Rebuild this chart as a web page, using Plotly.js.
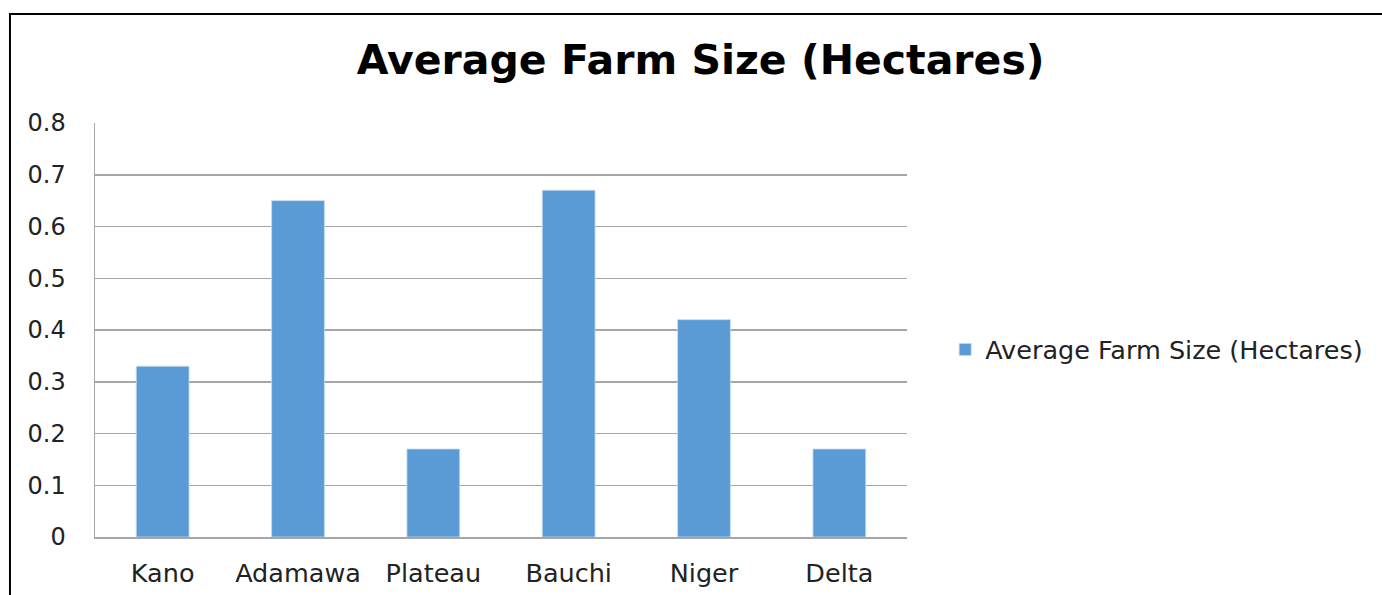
<!DOCTYPE html>
<html><head><meta charset="utf-8">
<script src="https://cdn.plot.ly/plotly-3.0.1.min.js"></script>
<style>html,body{margin:0;padding:0;background:#fff;}#chart{width:1382px;height:595px;}</style>
</head><body><div id="chart"></div>
<script>
const categories = ["Kano", "Adamawa", "Plateau", "Bauchi", "Niger", "Delta"];
const farmSize = [0.33, 0.65, 0.17, 0.67, 0.42, 0.17];
const yTicks = [0, 0.1, 0.2, 0.3, 0.4, 0.5, 0.6, 0.7, 0.8];
const yTickText = ["0", "0.1", "0.2", "0.3", "0.4", "0.5", "0.6", "0.7", "0.8"];
const seriesName = "Average Farm Size (Hectares)";
const chartTitle = "Average Farm Size (Hectares)";

const font = "'DejaVu Sans', sans-serif";
const trace = {
  type: "bar", x: categories, y: farmSize, name: seriesName,
  marker: {color: "#5b9bd5", line: {color: "#c5d9ef", width: 0.8}},
  showlegend: true, hoverinfo: "x+y"
};
const layout = {
  width: 1382, height: 595,
  margin: {l: 95, r: 475, t: 123, b: 58},
  paper_bgcolor: "#ffffff", plot_bgcolor: "#ffffff",
  font: {family: font, color: "#222222", size: 24},
  title: {text: chartTitle, font: {family: font, size: 41, color: "#000000", weight: "bold"},
          x: 0.507, xanchor: "center", y: 0.9, yanchor: "middle", yref: "container"},
  bargap: 0.61,
  xaxis: {showgrid: false, showline: true, linecolor: "#a6a6a6", linewidth: 1.5,
          ticks: "", ticklabelstandoff: 13, tickfont: {family: font, size: 25.5, color: "#222"}},
  yaxis: {range: [0, 0.8], tickvals: yTicks, ticktext: yTickText, showgrid: true,
          gridcolor: "#a6a6a6", gridwidth: 1.5, showline: true, linecolor: "#a6a6a6", linewidth: 1.5,
          zeroline: false, ticks: "", ticklabelstandoff: 23,
          tickfont: {family: font, size: 24, color: "#222"}},
  showlegend: true,
  legend: {x: 1.047, xanchor: "left", y: 0.452, yanchor: "middle", font: {family: font, size: 25.5, color: "#222"},
           itemwidth: 30, bgcolor: "rgba(0,0,0,0)"},
  shapes: [{type: "rect", xref: "paper", yref: "paper", x0: -0.1047, x1: 1.6, y0: -0.2, y1: 1.2633,
            line: {color: "#000000", width: 2}, fillcolor: "rgba(0,0,0,0)", layer: "above"}]
};
Plotly.newPlot("chart", [trace], layout, {displayModeBar: false, staticPlot: true});
</script></body></html>
